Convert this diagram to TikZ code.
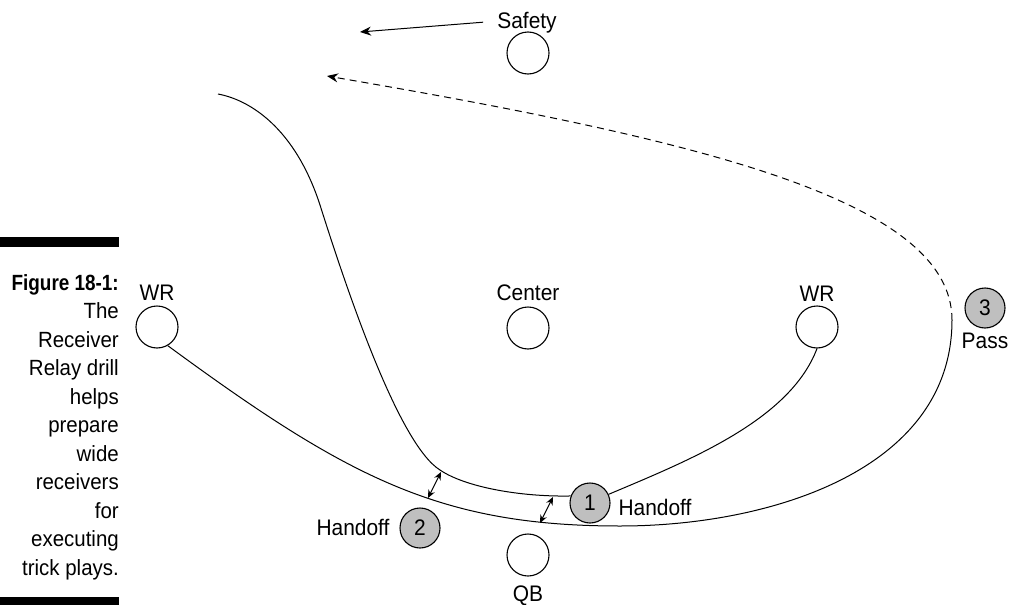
\documentclass[tikz,border=0pt]{standalone}
\usepackage{fontspec}
\setmainfont{Liberation Sans}
\newfontfamily\lblfont[FakeStretch=0.93]{Liberation Sans}
\newfontfamily\capboldfont[FakeStretch=0.86]{Liberation Sans}
\usetikzlibrary{arrows.meta}
\begin{document}
\begin{tikzpicture}[x=1pt,y=-1pt,
  player/.style={circle, draw, line width=1.1pt, minimum size=42pt, inner sep=0pt, fill=white},
  numbered/.style={player, fill=gray!50, minimum size=40pt, font=\lblfont\fontsize{22.5}{26}\selectfont},
  lbl/.style={anchor=base, inner sep=0pt, font=\lblfont\fontsize{22.5}{26}\selectfont},
  route/.style={line width=1pt},
  dashroute/.style={route, dash pattern=on 7pt off 5pt},
  tip/.style={-{Stealth[length=11pt,width=9pt]}},
  gap/.style={{Stealth[length=8pt,width=7pt]}-{Stealth[length=8pt,width=7pt]}, line width=1pt},
  capline/.style={anchor=base east, inner sep=0pt, font=\lblfont\fontsize{22}{26}\selectfont},
  bar/.style={fill=black}
]
\useasboundingbox (0,0) rectangle (1010,605);

% caption bars
\fill[bar] (0,237) rectangle (119,247);
\fill[bar] (0,597) rectangle (119,605);

% caption
\node[capline, font=\capboldfont\bfseries\fontsize{22}{26}\selectfont] (cap0) at (119,290) {Figure 18-1:};
\node[capline] (cap1) at (119,318.5) {The};
\node[capline] (cap2) at (119,347) {Receiver};
\node[capline] (cap3) at (119,375.5) {Relay drill};
\node[capline] (cap4) at (119,404) {helps};
\node[capline] (cap5) at (119,432.5) {prepare};
\node[capline] (cap6) at (119,461) {wide};
\node[capline] (cap7) at (119,489.5) {receivers};
\node[capline] (cap8) at (119,518) {for};
\node[capline] (cap9) at (119,546.5) {executing};
\node[capline] (cap10) at (119,575) {trick plays.};

% players
\node[player] (safety) at (528,53) {};
\node[player] (wrL) at (157,327) {};
\node[player] (center) at (528,328) {};
\node[player] (wrR) at (817,327) {};
\node[player] (qb) at (528,555) {};
\node[numbered] (c1) at (590,503) {1};
\node[numbered] (c2) at (420,528) {2};
\node[numbered] (c3) at (985,308) {3};

% labels
\node[lbl] (safetyL) at (527,28) {Safety};
\node[lbl] (wrLL) at (157,300) {WR};
\node[lbl] (centerL) at (528,300) {Center};
\node[lbl] (wrRL) at (817,301) {WR};
\node[lbl] (qbL) at (528,601) {QB};
\node[lbl] (h1L) at (655,515) {Handoff};
\node[lbl] (h2L) at (353,535) {Handoff};
\node[lbl] (passL) at (985,348) {Pass};

% free ends
\coordinate (throw) at (952,320);
\coordinate (deep) at (327,76);
\coordinate (runEnd) at (218,94);
\coordinate (bend) at (440,470);
\coordinate (safetyEnd) at (360,32);

% routes
\draw[route] (wrL.-60) .. controls (348,478) and (440,526) .. (620,526)
  .. controls (770,526) and (952,470) .. (throw);
\draw[dashroute, tip] (throw) .. controls (952,200) and (700,140) .. (deep);
\draw[route] (wrR.-90) .. controls (790,420) and (690,460) .. (c1.25);
\draw[route] (c1.160) .. controls (520,497) and (465,487) .. (bend)
  .. controls (400,445) and (350,300) .. (320,205)
  .. controls (295,128) and (250,100) .. (runEnd);
\draw[route, tip] ([xshift=-14pt]safetyL.west) -- (safetyEnd);

% spacing arrows
\coordinate (g1a) at (428,498);
\coordinate (g1b) at (441,472);
\coordinate (g2a) at (540,523);
\coordinate (g2b) at (553,497);
\draw[gap] (g1a) -- (g1b);
\draw[gap] (g2a) -- (g2b);
\end{tikzpicture}
\end{document}
